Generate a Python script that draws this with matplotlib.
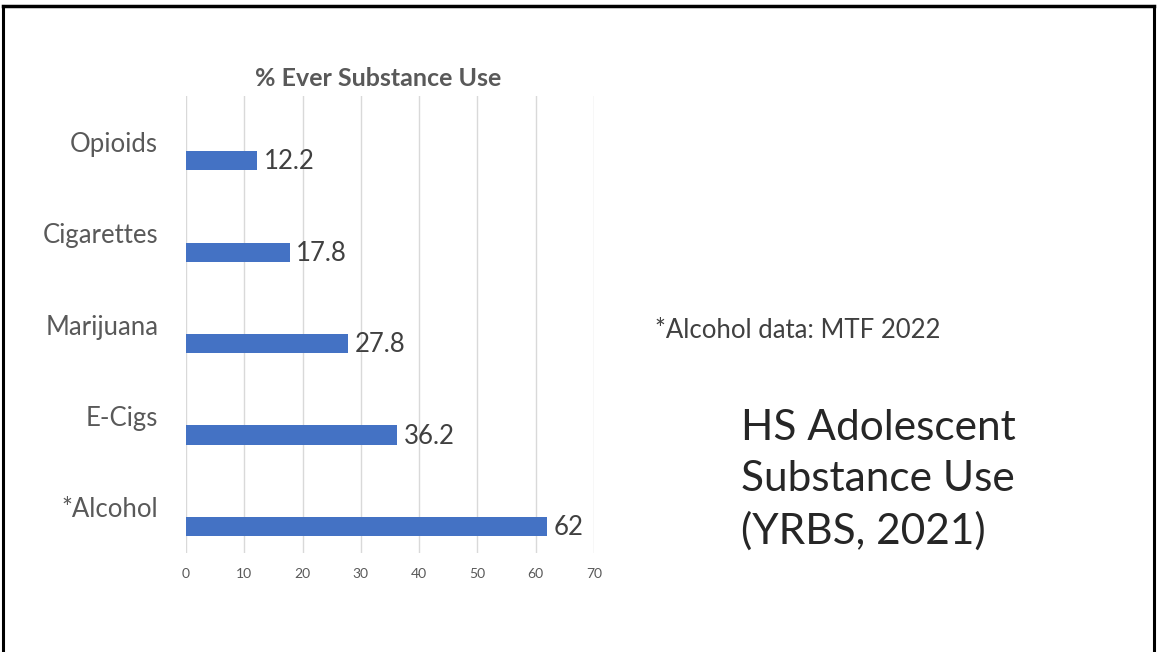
import matplotlib
matplotlib.use("Agg")
import matplotlib.pyplot as plt

# data (bottom to top)
categories = ['*Alcohol', 'E-Cigs', 'Marijuana', 'Cigarettes', 'Opioids']
values = [62, 36.2, 27.8, 17.8, 12.2]
value_labels = ['62', '36.2', '27.8', '17.8', '12.2']
x_ticks = [0, 10, 20, 30, 40, 50, 60, 70]

plt.rcParams['font.family'] = ['Lato', 'DejaVu Sans']

fig = plt.figure(figsize=(11.58, 6.52), dpi=100)
W, H = 1158, 652

# slide frame (top, left, right)
fig.add_artist(plt.Line2D([3 / W, 3 / W], [0, 1 - 6 / H], color='black', lw=2.2, transform=fig.transFigure))
fig.add_artist(plt.Line2D([1154 / W, 1154 / W], [0, 1 - 6 / H], color='black', lw=2.2, transform=fig.transFigure))
fig.add_artist(plt.Line2D([3 / W, 1154 / W], [1 - 6 / H, 1 - 6 / H], color='black', lw=2.5, transform=fig.transFigure))

ax = fig.add_axes([186 / W, 1 - 553 / H, 408 / W, 457 / H])
pos = list(range(len(categories)))
bar_h = 0.21
bar_y = [p - 0.21 for p in pos]
ax.barh(bar_y, values, height=bar_h, color='#4472C4', zorder=3)

for y, v, lab in zip(bar_y, values, value_labels):
    ax.text(v + 1.1, y - 0.01, lab, va='center', ha='left',
            fontsize=18.5, color='#404040')

ax.set_xlim(0, 70)
ax.set_ylim(-0.5, 4.5)
ax.set_xticks(x_ticks)
ax.set_xticklabels([str(t) for t in x_ticks], fontsize=10, color='#595959')
ax.set_yticks(pos)
ax.set_yticklabels(categories, fontsize=18.5, color='#595959')
ax.tick_params(axis='y', length=0, pad=20)
ax.tick_params(axis='x', length=0, pad=11)
ax.grid(axis='x', color='#D9D9D9', lw=1, zorder=0)
for s in ax.spines.values():
    s.set_visible(False)

fig.text(378 / W, 1 - 79 / H, '% Ever Substance Use', ha='center', va='center',
         fontsize=18, fontweight='bold', color='#595959')

fig.text(655 / W, 1 - 331 / H, '*Alcohol data: MTF 2022', ha='left', va='center',
         fontsize=18.5, color='#404040')

fig.text(741 / W, 1 - 480 / H, 'HS Adolescent\nSubstance Use\n(YRBS, 2021)', ha='left', va='center',
         fontsize=30.5, color='#262626', linespacing=1.42)

fig.savefig('out.png', dpi=100)
